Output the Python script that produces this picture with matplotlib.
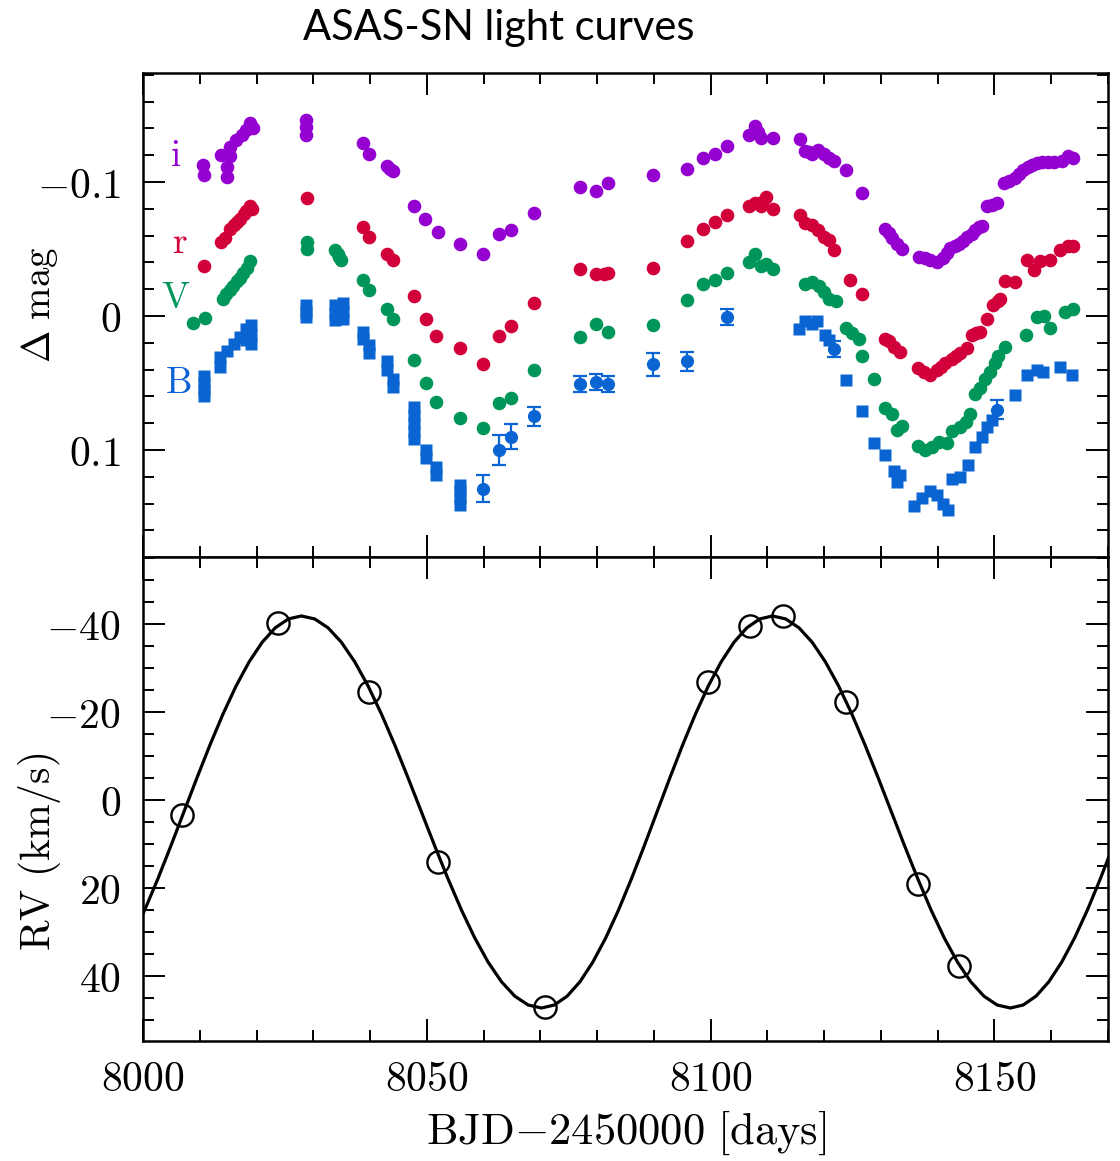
import matplotlib
matplotlib.use('Agg')
import matplotlib.pyplot as plt
from matplotlib.ticker import MultipleLocator, FuncFormatter

plt.rcParams['mathtext.fontset'] = 'cm'

# ---------------- data (BJD-2450000, value) ----------------
i_band = [(8010.5, -0.113), (8010.8, -0.105), (8013.7, -0.120), (8014.8, -0.111), (8014.8, -0.104),
          (8015.3, -0.126), (8015.3, -0.119), (8016.3, -0.131), (8017.4, -0.135), (8018.2, -0.139),
          (8018.8, -0.144), (8019.3, -0.140), (8028.8, -0.146), (8028.8, -0.141), (8028.8, -0.135),
          (8038.7, -0.129), (8039.8, -0.121), (8042.9, -0.112), (8043.5, -0.110), (8044.0, -0.108),
          (8047.8, -0.082), (8049.6, -0.072), (8051.9, -0.063), (8055.8, -0.054), (8059.9, -0.046),
          (8062.8, -0.061), (8064.8, -0.064), (8068.9, -0.077), (8076.9, -0.096), (8079.8, -0.093),
          (8082.0, -0.099), (8089.9, -0.105), (8095.8, -0.110), (8098.7, -0.118), (8100.8, -0.121),
          (8102.8, -0.127), (8106.8, -0.135), (8107.8, -0.142), (8108.3, -0.137), (8108.8, -0.133),
          (8110.9, -0.133), (8115.7, -0.132), (8116.7, -0.123), (8117.4, -0.122), (8117.9, -0.121),
          (8118.9, -0.124), (8119.9, -0.121), (8120.8, -0.118), (8121.7, -0.116), (8123.8, -0.109),
          (8126.7, -0.092), (8130.7, -0.065), (8131.4, -0.062), (8132.0, -0.058), (8132.8, -0.054),
          (8133.7, -0.050), (8136.7, -0.044), (8137.7, -0.043), (8138.7, -0.042), (8139.9, -0.040),
          (8141.0, -0.043), (8141.6, -0.047), (8142.2, -0.051), (8143.0, -0.052), (8143.7, -0.054),
          (8144.5, -0.056), (8145.2, -0.059), (8146.0, -0.061), (8146.6, -0.064), (8147.2, -0.066),
          (8147.8, -0.067), (8148.7, -0.082), (8149.5, -0.083), (8150.4, -0.084), (8151.6, -0.099),
          (8152.6, -0.101), (8153.6, -0.103), (8154.3, -0.106), (8155.1, -0.109), (8155.9, -0.111),
          (8156.6, -0.113), (8157.5, -0.114), (8158.3, -0.115), (8159.5, -0.115), (8160.5, -0.115),
          (8161.9, -0.116), (8163.0, -0.119), (8163.9, -0.118)]

r_band = [(8010.7, -0.037), (8013.8, -0.055), (8014.5, -0.058), (8015.3, -0.065), (8016.0, -0.068),
          (8016.6, -0.070), (8017.1, -0.072), (8017.8, -0.076), (8018.2, -0.078), (8018.8, -0.082),
          (8019.2, -0.080), (8028.9, -0.088), (8038.7, -0.066), (8039.8, -0.059), (8042.9, -0.046),
          (8044.0, -0.042), (8047.8, -0.015), (8049.8, 0.0025), (8051.6, 0.015), (8055.8, 0.024),
          (8059.9, 0.036), (8062.8, 0.015), (8064.8, 0.0075), (8068.9, -0.010), (8076.9, -0.035),
          (8079.8, -0.031), (8081.2, -0.031), (8082.0, -0.032), (8089.9, -0.036), (8095.8, -0.056),
          (8098.7, -0.065), (8100.8, -0.070), (8102.8, -0.075), (8106.8, -0.082), (8107.8, -0.084),
          (8108.8, -0.082), (8109.0, -0.085), (8109.7, -0.089), (8110.9, -0.080), (8115.7, -0.075),
          (8116.7, -0.069), (8117.9, -0.068), (8118.9, -0.064), (8119.9, -0.059), (8120.8, -0.057),
          (8121.7, -0.049), (8124.6, -0.027), (8126.7, -0.016), (8130.8, 0.017), (8131.5, 0.019),
          (8132.3, 0.023), (8133.4, 0.027), (8136.6, 0.039), (8137.6, 0.042), (8138.7, 0.044),
          (8139.9, 0.040), (8140.6, 0.038), (8141.3, 0.035), (8142.5, 0.032), (8143.2, 0.030),
          (8144.0, 0.028), (8145.2, 0.024), (8146.0, 0.014), (8146.8, 0.013), (8147.5, 0.012),
          (8148.7, 0.002), (8149.8, -0.008), (8150.7, -0.011), (8150.9, -0.013), (8151.9, -0.026),
          (8153.6, -0.025), (8155.7, -0.042), (8156.9, -0.034), (8158.1, -0.041), (8159.8, -0.042),
          (8161.6, -0.049), (8163.0, -0.052), (8163.9, -0.052)]

V_band = [(8008.8, 0.0055), (8010.9, 0.0017), (8014.1, -0.013), (8014.7, -0.016), (8015.3, -0.019),
          (8015.9, -0.022), (8016.5, -0.026), (8017.0, -0.028), (8017.6, -0.032), (8018.3, -0.036),
          (8018.9, -0.041), (8028.9, -0.055), (8028.9, -0.050), (8033.8, -0.049), (8034.3, -0.046),
          (8034.5, -0.044), (8034.9, -0.042), (8038.7, -0.027), (8039.8, -0.019), (8042.9, -0.005),
          (8044.0, 0.002), (8047.8, 0.033), (8049.8, 0.050), (8051.6, 0.064), (8055.8, 0.076),
          (8059.9, 0.084), (8062.8, 0.065), (8064.8, 0.061), (8068.9, 0.040), (8076.9, 0.016),
          (8079.8, 0.006), (8082.0, 0.012), (8089.9, 0.007), (8095.8, -0.012), (8098.7, -0.024),
          (8100.8, -0.027), (8102.8, -0.032), (8106.8, -0.040), (8107.8, -0.046), (8108.8, -0.037),
          (8109.7, -0.039), (8110.9, -0.035), (8116.7, -0.024), (8117.9, -0.025), (8119.1, -0.022),
          (8119.9, -0.018), (8120.8, -0.013), (8122.0, -0.011), (8123.8, 0.009), (8124.9, 0.013),
          (8126.1, 0.017), (8126.7, 0.030), (8128.7, 0.047), (8130.8, 0.069), (8132.0, 0.073),
          (8132.8, 0.085), (8133.7, 0.082), (8136.6, 0.097), (8137.8, 0.100), (8139.0, 0.098),
          (8140.2, 0.094), (8141.6, 0.095), (8142.5, 0.086), (8144.0, 0.083), (8144.9, 0.079),
          (8145.7, 0.073), (8146.6, 0.058), (8147.5, 0.054), (8148.4, 0.047), (8149.3, 0.042),
          (8150.1, 0.035), (8150.7, 0.030), (8151.8, 0.023), (8155.5, 0.014), (8157.5, 0.001),
          (8158.7, 0.000), (8159.7, 0.009), (8162.4, -0.003), (8163.9, -0.005)]

B_squares = [(8010.7, 0.045), (8010.7, 0.050), (8010.7, 0.055), (8010.7, 0.060), (8013.6, 0.031),
             (8013.6, 0.038), (8014.8, 0.026), (8016.0, 0.021), (8017.0, 0.016), (8018.2, 0.010),
             (8018.2, 0.018), (8019.1, 0.007), (8019.1, 0.014), (8019.1, 0.021), (8028.8, -0.008),
             (8028.8, -0.003), (8028.8, 0.001), (8033.8, -0.008), (8033.8, -0.002), (8033.8, 0.003),
             (8035.2, -0.010), (8035.2, -0.004), (8035.2, 0.002), (8038.7, 0.012), (8038.7, 0.017),
             (8039.8, 0.022), (8039.8, 0.028), (8042.9, 0.034), (8042.9, 0.040), (8044.0, 0.047),
             (8044.0, 0.053), (8047.8, 0.068), (8047.8, 0.074), (8047.8, 0.080), (8047.8, 0.086),
             (8047.8, 0.092), (8049.8, 0.100), (8049.8, 0.106), (8051.6, 0.113), (8051.6, 0.119),
             (8055.8, 0.126), (8055.8, 0.131), (8055.8, 0.136), (8055.8, 0.141), (8115.5, 0.010),
             (8116.7, 0.004), (8117.9, 0.006), (8118.8, 0.004), (8120.2, 0.014), (8120.8, 0.018),
             (8123.8, 0.048), (8126.7, 0.071), (8128.7, 0.095), (8130.7, 0.104), (8132.3, 0.116),
             (8132.8, 0.124), (8133.4, 0.119), (8135.8, 0.142), (8137.2, 0.136), (8138.7, 0.131),
             (8139.9, 0.134), (8141.0, 0.140), (8141.9, 0.145), (8142.5, 0.122), (8144.0, 0.120),
             (8145.4, 0.111), (8146.6, 0.098), (8147.8, 0.090), (8148.7, 0.083), (8149.5, 0.078),
             (8153.6, 0.059), (8155.7, 0.044), (8157.5, 0.040), (8158.6, 0.042), (8161.6, 0.038),
             (8163.6, 0.044)]

# (day, mag, error)
B_circles = [(8059.9, 0.129, 0.010), (8062.8, 0.100, 0.011), (8064.8, 0.090, 0.0095),
             (8068.9, 0.075, 0.007), (8076.9, 0.051, 0.006), (8079.8, 0.049, 0.006),
             (8082.0, 0.051, 0.006), (8089.9, 0.036, 0.0087), (8095.8, 0.034, 0.007),
             (8102.8, 0.001, 0.006), (8121.7, 0.025, 0.006), (8150.4, 0.070, 0.007)]

rv_obs = [(8006.8, 3.4), (8023.8, -40.2), (8039.8, -24.6), (8051.9, 14.2), (8070.9, 47.1),
          (8099.6, -26.7), (8106.9, -39.5), (8112.7, -41.8), (8123.8, -22.3), (8136.5, 19.1),
          (8143.7, 37.7)]

# orbit fit curve
rv_fit = [(7998.0, 31.39), (8000.3, 25.03), (8002.6, 17.99), (8004.9, 10.49), (8007.2, 2.75),
          (8009.5, -4.99), (8011.8, -12.49), (8014.1, -19.53), (8016.4, -25.89), (8018.7, -31.38),
          (8021.0, -35.83), (8023.3, -39.11), (8025.6, -41.12), (8027.9, -41.80),
          (8030.25, -41.12), (8032.6, -39.11), (8034.95, -35.83), (8037.3, -31.38), (8039.65, -25.89),
          (8042.0, -19.53), (8044.35, -12.49), (8046.7, -4.99), (8049.05, 2.75), (8051.4, 10.49),
          (8053.75, 17.99), (8056.1, 25.03), (8058.45, 31.39), (8060.8, 36.88), (8063.15, 41.33),
          (8065.5, 44.61), (8067.85, 46.62), (8070.2, 47.30),
          (8072.46, 46.62), (8074.72, 44.61), (8076.98, 41.33), (8079.24, 36.88), (8081.51, 31.39),
          (8083.77, 25.03), (8086.03, 17.99), (8088.29, 10.49), (8090.55, 2.75), (8092.81, -4.99),
          (8095.07, -12.49), (8097.33, -19.53), (8099.59, -25.89), (8101.86, -31.38),
          (8104.12, -35.83), (8106.38, -39.11), (8108.64, -41.12), (8110.9, -41.80),
          (8113.23, -41.12), (8115.56, -39.11), (8117.88, -35.83), (8120.21, -31.38),
          (8122.54, -25.89), (8124.87, -19.53), (8127.19, -12.49), (8129.52, -4.99),
          (8131.85, 2.75), (8134.18, 10.49), (8136.51, 17.99), (8138.83, 25.03), (8141.16, 31.39),
          (8143.49, 36.88), (8145.82, 41.33), (8148.14, 44.61), (8150.47, 46.62), (8152.8, 47.30),
          (8155.06, 46.62), (8157.32, 44.61), (8159.58, 41.33), (8161.84, 36.88), (8164.11, 31.39),
          (8166.37, 25.03), (8168.63, 17.99), (8170.89, 10.49), (8173.15, 2.75)]

band_labels = ['i', 'r', 'V', 'B']

# ---------------- styling ----------------
col_i = '#9400D0'
col_r = '#D2003A'
col_V = '#00965A'
col_B = '#0A64D2'

W, H = 1120, 1161
fig = plt.figure(figsize=(W / 100, H / 100), dpi=100)

L, R = 143 / W, 1108 / W
ax1 = fig.add_axes([L, 1 - 557 / H, R - L, (557 - 73) / H])
ax2 = fig.add_axes([L, 1 - 1041 / H, R - L, (1041 - 557) / H])


def unzip(pairs):
    return [p[0] for p in pairs], [p[1] for p in pairs]


ms = 9.8
for data, col in [(i_band, col_i), (r_band, col_r), (V_band, col_V)]:
    x, y = unzip(data)
    ax1.plot(x, y, 'o', ms=ms, color=col, mec='none', zorder=3)

bx, by = unzip(B_squares)
ax1.errorbar(bx, by, yerr=0.003, fmt='s', ms=8, color=col_B, mec='none',
             elinewidth=1.4, capsize=3, capthick=1.4, zorder=3)
cx = [p[0] for p in B_circles]
cy = [p[1] for p in B_circles]
ce = [p[2] for p in B_circles]
ax1.errorbar(cx, cy, yerr=ce, fmt='o', ms=9.5, color=col_B, mec='none',
             elinewidth=1.6, capsize=5, capthick=1.6, zorder=3)

# band labels
lab_pos = [(8005.8, -0.119, col_i), (8006.5, -0.0545, col_r),
           (8005.8, -0.0134, col_V), (8006.2, 0.050, col_B)]
for name, (lx, ly, c) in zip(band_labels, lab_pos):
    ax1.text(lx, ly, r'$\mathrm{%s}$' % name, color=c, fontsize=27,
             ha='center', va='center')

fx, fy = unzip(rv_fit)
ax2.plot(fx, fy, '-', color='black', lw=2.3, zorder=2)
ox, oy = unzip(rv_obs)
ax2.plot(ox, oy, 'o', ms=16, mfc='none', mec='black', mew=1.7, zorder=3)

ax1.set_xlim(8000, 8170)
ax2.set_xlim(8000, 8170)
ax1.set_ylim(0.1799, -0.1813)
ax2.set_ylim(54.8, -55.2)

for ax in (ax1, ax2):
    ax.xaxis.set_major_locator(MultipleLocator(50))
    ax.xaxis.set_minor_locator(MultipleLocator(10))
    ax.tick_params(which='both', direction='in', top=True, right=True,
                   width=1.4, labelsize=30)
    ax.tick_params(axis='y', pad=16)
    ax.tick_params(axis='x', pad=12)
    ax.tick_params(which='major', length=16)
    ax.tick_params(which='minor', length=8)
    for s in ax.spines.values():
        s.set_linewidth(1.8)

ax1.yaxis.set_major_locator(MultipleLocator(0.1))
ax1.yaxis.set_minor_locator(MultipleLocator(0.02))
ax2.yaxis.set_major_locator(MultipleLocator(20))
ax2.yaxis.set_minor_locator(MultipleLocator(5))
ax1.tick_params(axis='x', labelbottom=False)


def fmt_mag(v, pos):
    if abs(v) < 1e-9:
        return r'$0$'
    return r'$%.1f$' % v


def fmt_int(v, pos):
    return r'$%d$' % int(round(v))


ax1.yaxis.set_major_formatter(FuncFormatter(fmt_mag))
ax2.yaxis.set_major_formatter(FuncFormatter(fmt_int))
ax2.xaxis.set_major_formatter(FuncFormatter(fmt_int))

fig.text(40 / W, 1 - 305 / H, r'$\Delta\ \mathrm{mag}$', rotation=90,
         fontsize=28, ha='center', va='center')
fig.text(40 / W, 1 - 852 / H, r'$\mathrm{RV\ (km/s)}$', rotation=90,
         fontsize=30, ha='center', va='center')
fig.text(626 / W, 1 - 1133 / H, r'$\mathrm{BJD}{-}2450000\ [\mathrm{days}]$',
         fontsize=32, ha='center', va='center')
fig.text(499 / W, 1 - 28 / H, 'ASAS-SN light curves', family='Lato',
         fontsize=30, ha='center', va='center')

fig.savefig('out.png', dpi=100)
